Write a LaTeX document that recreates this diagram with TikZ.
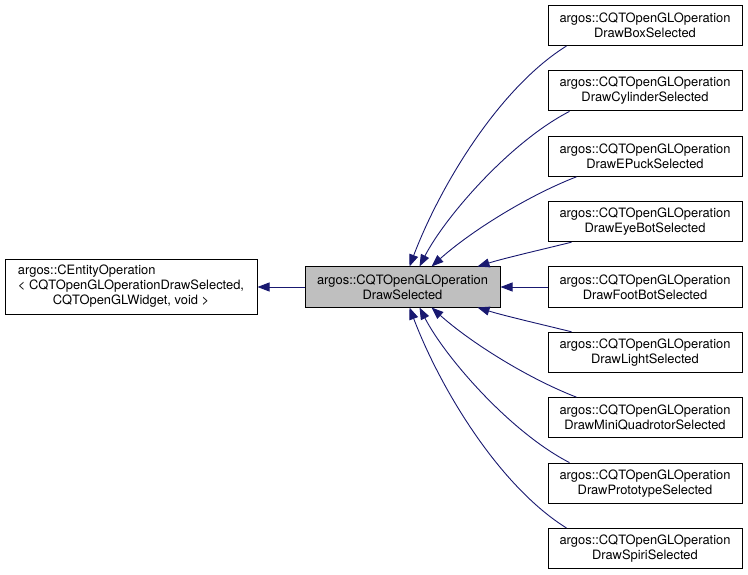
\documentclass[tikz,border=0pt]{standalone}
\usepackage{fontspec}
\setmainfont{TeX Gyre Heros}
\usetikzlibrary{arrows.meta}
\definecolor{edgeblue}{RGB}{25,25,112}
\definecolor{boxgray}{RGB}{191,191,191}
\begin{document}
\begin{tikzpicture}[x=1pt,y=-1pt,
  cls/.style={draw=black,line width=1pt,minimum width=194pt,minimum height=40pt,inner sep=0pt,align=center,font=\fontsize{12.9}{15}\selectfont},
  edge/.style={draw=edgeblue,line width=0.9pt,-{Triangle[length=12pt,width=9pt]}}]
\useasboundingbox (0,0) rectangle (748,575);
\node[cls] (b1) at (645,25.5) {argos::CQTOpenGLOperation\\DrawBoxSelected};
\node[cls] (b2) at (645,90.9) {argos::CQTOpenGLOperation\\DrawCylinderSelected};
\node[cls] (b3) at (645,156.3) {argos::CQTOpenGLOperation\\DrawEPuckSelected};
\node[cls] (b4) at (645,221.7) {argos::CQTOpenGLOperation\\DrawEyeBotSelected};
\node[cls] (b5) at (645,287) {argos::CQTOpenGLOperation\\DrawFootBotSelected};
\node[cls] (b6) at (645,352.3) {argos::CQTOpenGLOperation\\DrawLightSelected};
\node[cls] (b7) at (645,417.7) {argos::CQTOpenGLOperation\\DrawMiniQuadrotorSelected};
\node[cls] (b8) at (645,483.1) {argos::CQTOpenGLOperation\\DrawPrototypeSelected};
\node[cls] (b9) at (645,548.5) {argos::CQTOpenGLOperation\\DrawSpiriSelected};
\node[cls,fill=boxgray,minimum width=195pt] (c) at (402.5,287) {argos::CQTOpenGLOperation\\DrawSelected};
\node[cls,minimum width=252pt,minimum height=54pt] (l) at (131,287) {\begin{tabular}{@{}l@{}}argos::CEntityOperation\\< CQTOpenGLOperationDrawSelected,\\\multicolumn{1}{@{}c@{}}{CQTOpenGLWidget, void >}\end{tabular}};
% coordinates
\coordinate (t1) at ([xshift=105pt]c.north west);
\coordinate (t2) at ([xshift=115pt]c.north west);
\coordinate (t3) at ([xshift=127pt]c.north west);
\coordinate (t4) at ([xshift=173pt]c.north west);
\coordinate (u6) at ([xshift=173pt]c.south west);
\coordinate (u7) at ([xshift=127pt]c.south west);
\coordinate (u8) at ([xshift=115pt]c.south west);
\coordinate (u9) at ([xshift=105pt]c.south west);
\draw[edge] (c.west) -- (l.east);
\draw[edge] (b5.west) -- (c.east);
\draw[edge] ([xshift=19pt]b1.south west) .. controls (499,88) and (440,186) .. (t1);
\draw[edge] ([xshift=22pt]b2.south west) .. controls (510,142) and (445,217) .. (t2);
\draw[edge] ([xshift=29pt]b3.south west) .. controls (527,196) and (470,232) .. (t3);
\draw[edge] ([xshift=24pt]b4.south west) .. controls (540,250) and (505,258) .. (t4);
\draw[edge] ([xshift=24pt]b6.north west) .. controls (540,324) and (505,316) .. (u6);
\draw[edge] ([xshift=29pt]b7.north west) .. controls (527,378) and (470,342) .. (u7);
\draw[edge] ([xshift=22pt]b8.north west) .. controls (510,432) and (445,357) .. (u8);
\draw[edge] ([xshift=19pt]b9.north west) .. controls (499,486) and (440,388) .. (u9);
\end{tikzpicture}
\end{document}
